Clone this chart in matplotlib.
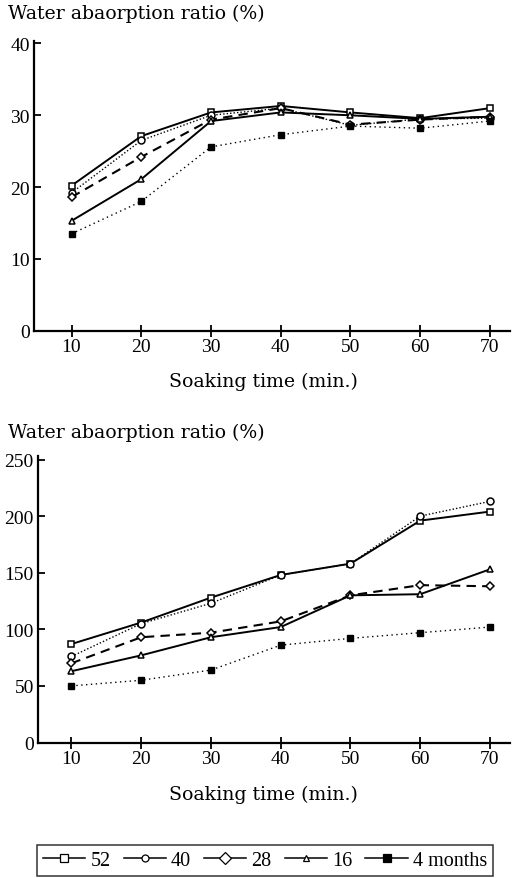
import matplotlib
matplotlib.use("Agg")
import matplotlib.pyplot as plt
from matplotlib.lines import Line2D

plt.rcParams['font.family'] = ['Liberation Serif', 'DejaVu Serif']

# ---- data ----
soak_time = [10, 20, 30, 40, 50, 60, 70]
series_labels = ["52", "40", "28", "16", "4 months"]

# top panel (%)
top_52 = [20.2, 27.1, 30.4, 31.3, 30.4, 29.6, 31.0]
top_40 = [19.2, 26.5, 30.0, 31.0, 28.6, 29.5, 29.6]
top_28 = [18.6, 24.2, 29.4, 31.0, 28.7, 29.4, 29.8]
top_16 = [15.3, 21.1, 29.2, 30.4, 30.0, 29.5, 29.8]
top_4m = [13.5, 18.0, 25.6, 27.3, 28.5, 28.2, 29.2]

# bottom panel (%)
bot_52 = [87, 106, 128, 148, 158, 196, 204]
bot_40 = [76, 105, 123, 148, 158, 200, 213]
bot_28 = [70, 93, 97, 107, 130, 139, 138]
bot_16 = [63, 77, 93, 102, 130, 131, 153]
bot_4m = [50, 55, 64, 86, 92, 97, 102]

top_ticks = [0, 10, 20, 30, 40]
bot_ticks = [0, 50, 100, 150, 200, 250]
x_ticks = [10, 20, 30, 40, 50, 60, 70]

ylabel_text = "Water abaorption ratio (%)"
xlabel_text = "Soaking time (min.)"

styles = [
    dict(ls='-', marker='s', mfc='white', mec='black', ms=4.8, lw=1.4, mew=1.1),
    dict(ls=(0, (1, 1.5)), marker='o', mfc='white', mec='black', ms=5.0, lw=1.0, mew=1.1),
    dict(ls=(0, (4.5, 3)), marker='D', mfc='white', mec='black', ms=4.5, lw=1.5, mew=1.1),
    dict(ls='-', marker='^', mfc='white', mec='black', ms=5.0, lw=1.4, mew=1.1),
    dict(ls=(0, (1, 2.5)), marker='s', mfc='black', mec='black', ms=4.8, lw=1.0, mew=1.0),
]

LABEL_FONT = dict(family=['DejaVu Serif'], fontsize=13.6)
TICK_SIZE = 14

W, H = 529, 879
fig = plt.figure(figsize=(W / 100, H / 100), dpi=100)


def axes_px(left, top, right, bottom):
    return fig.add_axes([left / W, 1 - bottom / H, (right - left) / W, (bottom - top) / H])


def style_axes(ax, yticks, ylim, xlim):
    for s in ['top', 'right']:
        ax.spines[s].set_visible(False)
    for s in ['left', 'bottom']:
        ax.spines[s].set_linewidth(1.6)
    ax.set_xlim(*xlim)
    ax.set_ylim(*ylim)
    ax.set_xticks(x_ticks)
    ax.set_yticks(yticks)
    ax.tick_params(axis='x', direction='inout', length=9, width=1.3, labelsize=TICK_SIZE, pad=1)
    ax.tick_params(axis='y', direction='in', length=5, width=1.3, labelsize=TICK_SIZE, pad=3)


# top panel: y=0 at 331.7 px, 7.18 px per unit; x=10 at 71.5, 6.975 px per unit
ax1 = axes_px(34, 42, 510, 331.7)
for vals, st in zip([top_52, top_40, top_28, top_16, top_4m], styles):
    ax1.plot(soak_time, vals, color='black', **st)
style_axes(ax1, top_ticks, (0, (331.7 - 42) / 7.18), (4.62, 72.87))

# bottom panel: y=0 at 743.5 px, 1.132 px per unit
ax2 = axes_px(38, 457, 510, 743.5)
for vals, st in zip([bot_52, bot_40, bot_28, bot_16, bot_4m], styles):
    ax2.plot(soak_time, vals, color='black', **st)
style_axes(ax2, bot_ticks, (0, (743.5 - 457) / 1.132), (5.2, 72.87))

fig.text(8 / W, 1 - 14 / H, ylabel_text, va='center', ha='left', **LABEL_FONT)
fig.text(8 / W, 1 - 433 / H, ylabel_text, va='center', ha='left', **LABEL_FONT)
fig.text(263 / W, 1 - 382 / H, xlabel_text, va='center', ha='center', **LABEL_FONT)
fig.text(263 / W, 1 - 795 / H, xlabel_text, va='center', ha='center', **LABEL_FONT)

legend_ms = [6.0, 5.0, 6.5, 5.0, 6.0]
handles = []
for st, ms in zip(styles, legend_ms):
    h = Line2D([], [], color='black', ls='-', lw=1.1, marker=st['marker'],
               mfc=st['mfc'], mec='black', ms=ms, mew=0.9)
    handles.append(h)
leg = fig.legend(handles, series_labels, loc='lower left', mode='expand',
                 bbox_to_anchor=(37 / W, 1 - 877 / H, 456 / W, 35 / H), ncol=5,
                 frameon=True, fancybox=False, edgecolor='black', fontsize=14.5,
                 handlelength=2.1, handletextpad=0.25, columnspacing=0.5,
                 borderpad=0.3, borderaxespad=0)
leg.get_frame().set_linewidth(1.1)

fig.savefig("out.png", dpi=100)
